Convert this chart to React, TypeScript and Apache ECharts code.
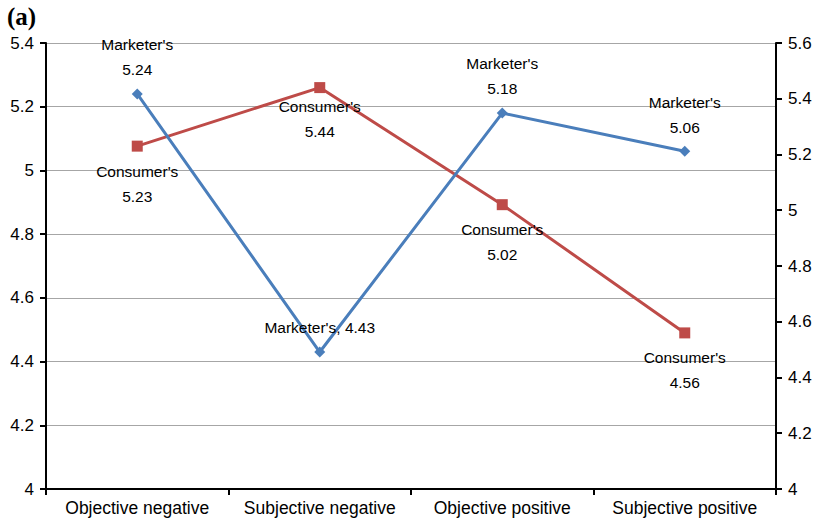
import React, { useEffect, useRef } from "react";
import * as echarts from "echarts";

const categories = ["Objective negative", "Subjective negative", "Objective positive", "Subjective positive"];
const marketerValues = [5.24, 4.43, 5.18, 5.06];
const consumerValues = [5.23, 5.44, 5.02, 4.56];
const marketerLabels = ["Marketer's\n5.24", "Marketer's, 4.43", "Marketer's\n5.18", "Marketer's\n5.06"];
const consumerLabels = ["Consumer's\n5.23", "Consumer's\n5.44", "Consumer's\n5.02", "Consumer's\n4.56"];
const marketerLabelDistance = [6, 7, 7, 6];
const consumerLabelDistance = [7, 1, 7, 7];

const BLUE = "#4a7ebb";
const RED = "#be4b48";
const FONT = "Liberation Sans, Arial, sans-serif";

export default function App() {
  const ref = useRef<HTMLDivElement>(null);
  useEffect(() => {
    if (!ref.current) return;
    const chart = echarts.init(ref.current, null, { renderer: "svg" });
    chart.setOption({
      animation: false,
      backgroundColor: "#fff",
      graphic: [
        {
          type: "text",
          left: 7,
          top: 4,
          style: {
            text: "(a)",
            fill: "#000",
            font: "bold 25px 'Liberation Serif', 'Times New Roman', serif",
          },
        },
      ],
      grid: { left: 46, right: 44, top: 43, bottom: 32 },
      xAxis: {
        type: "category",
        data: categories,
        boundaryGap: true,
        axisLine: { lineStyle: { color: "#000", width: 2 } },
        axisTick: { show: true, interval: 0, length: 6, lineStyle: { color: "#000", width: 2 } },
        axisLabel: { interval: 0, color: "#000", fontSize: 17.5, fontFamily: FONT, margin: 10 },
      },
      yAxis: [
        {
          type: "value",
          min: 4,
          max: 5.4,
          interval: 0.2,
          position: "left",
          axisLine: { show: true, lineStyle: { color: "#000", width: 2 } },
          axisTick: { show: true, length: 6, lineStyle: { color: "#000", width: 2 } },
          axisLabel: { color: "#000", fontSize: 17, fontFamily: FONT, margin: 12, formatter: (v: number) => String(parseFloat(v.toFixed(1))) },
          splitLine: { show: true, lineStyle: { color: "#a6a6a6", width: 1 } },
        },
        {
          type: "value",
          min: 4,
          max: 5.6,
          interval: 0.2,
          position: "right",
          axisLine: { show: true, lineStyle: { color: "#000", width: 2 } },
          axisTick: { show: true, length: 6, lineStyle: { color: "#000", width: 2 } },
          axisLabel: { color: "#000", fontSize: 17, fontFamily: FONT, margin: 12, formatter: (v: number) => String(parseFloat(v.toFixed(1))) },
          splitLine: { show: false },
        },
      ],
      series: [
        {
          name: "Marketer's",
          type: "line",
          yAxisIndex: 0,
          data: marketerValues.map((v, i) => ({
            value: v,
            label: { formatter: marketerLabels[i], distance: marketerLabelDistance[i] },
          })),
          symbol: "diamond",
          symbolSize: 11,
          lineStyle: { color: BLUE, width: 3 },
          itemStyle: { color: BLUE },
          label: {
            show: true,
            position: "top",
            color: "#000",
            fontSize: 15.5,
            fontFamily: FONT,
            lineHeight: 25,
            align: "center",
          },
          z: 3,
        },
        {
          name: "Consumer's",
          type: "line",
          yAxisIndex: 1,
          data: consumerValues.map((v, i) => ({
            value: v,
            label: { formatter: consumerLabels[i], distance: consumerLabelDistance[i] },
          })),
          symbol: "rect",
          symbolSize: 11,
          lineStyle: { color: RED, width: 3 },
          itemStyle: { color: RED },
          label: {
            show: true,
            position: "bottom",
            color: "#000",
            fontSize: 15.5,
            fontFamily: FONT,
            lineHeight: 25,
            align: "center",
          },
          z: 2,
        },
      ],
    });
    return () => chart.dispose();
  }, []);
  return <div ref={ref} style={{ width: 820, height: 521, position: "absolute", left: 0, top: 0 }} />;
}
